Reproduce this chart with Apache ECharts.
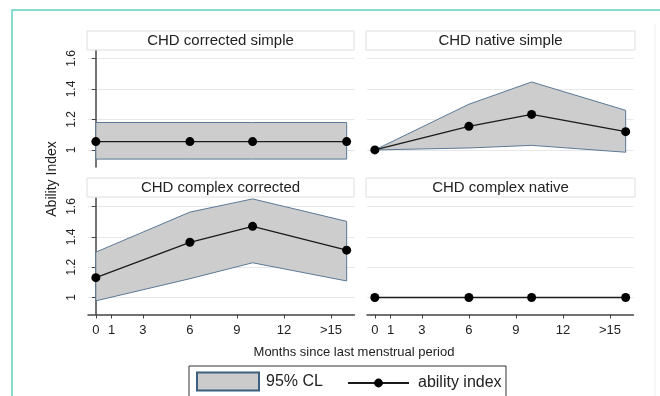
<!DOCTYPE html>
<html>
<head>
<meta charset="utf-8">
<script src="https://cdn.jsdelivr.net/npm/echarts@6/dist/echarts.min.js"></script>
<style>html,body{margin:0;padding:0;background:#fff}#chart{width:660px;height:396px}</style>
</head>
<body>
<div id="chart"></div>
<script>
// ---- data ----
var months = [0, 6, 10, 16];
var xTicks = [0, 1, 3, 6, 9, 12, 15];
var xTickLabels = ['0', '1', '3', '6', '9', '12', '>15'];
var yTicks = [1, 1.2, 1.4, 1.6];
var yTickLabels = ['1', '1.2', '1.4', '1.6'];
var panelTitles = ['CHD corrected simple', 'CHD native simple', 'CHD complex corrected', 'CHD complex native'];

var corrSimpleMean = [1.055, 1.055, 1.055, 1.055];
var corrSimpleLo   = [0.94, 0.94, 0.94, 0.94];
var corrSimpleHi   = [1.18, 1.18, 1.18, 1.18];

var nativeSimpleMean = [1.0, 1.155, 1.233, 1.12];
var nativeSimpleLo   = [1.0, 1.013, 1.03, 0.985];
var nativeSimpleHi   = [1.0, 1.30, 1.446, 1.26];

var complexCorrMean = [1.131, 1.364, 1.469, 1.312];
var complexCorrLo   = [0.978, 1.124, 1.229, 1.109];
var complexCorrHi   = [1.299, 1.563, 1.65, 1.502];

var complexNativeMean = [1.0, 1.0, 1.0, 1.0];
var complexNativeLo   = [1.0, 1.0, 1.0, 1.0];
var complexNativeHi   = [1.0, 1.0, 1.0, 1.0];

var xAxisTitle = 'Months since last menstrual period';
var yAxisTitle = 'Ability Index';
var legendCL = '95% CL';
var legendMean = 'ability index';

// ---- build ----
var panels = [
  {mean: corrSimpleMean, lo: corrSimpleLo, hi: corrSimpleHi},
  {mean: nativeSimpleMean, lo: nativeSimpleLo, hi: nativeSimpleHi},
  {mean: complexCorrMean, lo: complexCorrLo, hi: complexCorrHi},
  {mean: complexNativeMean, lo: complexNativeLo, hi: complexNativeHi}
];
var FONT = '"Liberation Sans", Arial, sans-serif';
var gridPos = [
  {left: 88, top: 50, width: 266.5, height: 117},
  {left: 367, top: 50, width: 266.5, height: 117},
  {left: 88, top: 198, width: 266.5, height: 116.5},
  {left: 367, top: 198, width: 266.5, height: 116.5}
];
var YMIN = 0.888, YMAX = 1.656;

function bandRenderer(p) {
  return function (params, api) {
    if (params.dataIndex !== 0) return null;
    var pts = [];
    for (var i = 0; i < months.length; i++) pts.push(api.coord([months[i], p.hi[i]]));
    for (var j = months.length - 1; j >= 0; j--) pts.push(api.coord([months[j], p.lo[j]]));
    return {type: 'polygon', shape: {points: pts},
      style: {fill: '#cdcdcd', stroke: '#5a7896', lineWidth: 1}};
  };
}

var grids = [], xAxes = [], yAxes = [], series = [], graphics = [];
panels.forEach(function (p, k) {
  var isBottom = k >= 2, isLeft = (k % 2) === 0;
  grids.push(gridPos[k]);
  xAxes.push({
    type: 'value', gridIndex: k, min: -0.5, max: 16.5,
    show: isBottom,
    axisLine: {show: isBottom, onZero: false, lineStyle: {color: '#444', width: 1.5}},
    axisTick: {show: isBottom, customValues: xTicks, length: 4, lineStyle: {color: '#444'}},
    axisLabel: {show: isBottom, customValues: xTicks, fontSize: 13, color: '#222', margin: 9, fontFamily: FONT,
      formatter: function (v) { var i = xTicks.indexOf(v); return i >= 0 ? xTickLabels[i] : ''; }},
    splitLine: {show: false}
  });
  yAxes.push({
    type: 'value', gridIndex: k, min: YMIN, max: YMAX,
    axisLine: {show: isLeft, lineStyle: {color: '#444', width: 1.5}},
    axisTick: {show: isLeft, customValues: yTicks, length: 4, lineStyle: {color: '#444'}},
    axisLabel: {show: isLeft, customValues: yTicks, rotate: 90, fontSize: 12, color: '#222', margin: 10, fontFamily: FONT,
      formatter: function (v) { var i = yTicks.indexOf(v); return i >= 0 ? yTickLabels[i] : ''; }},
    splitLine: {show: true, lineStyle: {color: '#e8e8e8', width: 1}}
  });
  series.push({
    type: 'custom', name: legendCL, xAxisIndex: k, yAxisIndex: k,
    data: months.map(function (m, i) { return [m, p.lo[i], p.hi[i]]; }),
    encode: {x: 0, y: [1, 2]},
    itemStyle: {color: '#cdcdcd'},
    renderItem: bandRenderer(p), silent: true, z: 2
  });
  series.push({
    type: 'line', name: legendMean, xAxisIndex: k, yAxisIndex: k,
    data: months.map(function (m, i) { return [m, p.mean[i]]; }),
    symbol: 'circle', symbolSize: 9, showSymbol: true,
    lineStyle: {color: '#1a1a1a', width: 1.3},
    itemStyle: {color: '#000'}, z: 5, animation: false
  });
  var hx = isLeft ? 87 : 366, hw = isLeft ? 267 : 269;
  var hy = isBottom ? 178 : 31;
  graphics.push({type: 'rect', shape: {x: hx, y: hy, width: hw, height: 19},
    style: {fill: '#fff', stroke: '#dedede', lineWidth: 1}, z: 10});
  graphics.push({type: 'text', x: hx + hw / 2, y: hy + 10,
    style: {text: panelTitles[k], font: '15px ' + FONT, fill: '#222', textAlign: 'center', textVerticalAlign: 'middle'}, z: 11});
});

// outer frame and texts
graphics.push({type: 'rect', shape: {x: 12, y: 10, width: 700, height: 500},
  style: {fill: 'none', stroke: '#62d0c2', lineWidth: 1.5}, z: 0});
graphics.push({type: 'line', shape: {x1: 655, y1: 24, x2: 655, y2: 396},
  style: {stroke: '#eeeeee', lineWidth: 1}, z: 0});
graphics.push({type: 'text', x: 354, y: 352,
  style: {text: xAxisTitle, font: '13px ' + FONT, fill: '#222', textAlign: 'center', textVerticalAlign: 'middle'}, z: 11});
graphics.push({type: 'text', x: 52, y: 179, rotation: Math.PI / 2,
  style: {text: yAxisTitle, font: '14px ' + FONT, fill: '#222', textAlign: 'center', textVerticalAlign: 'middle'}, z: 11});
graphics.push({type: 'rect', shape: {x: 189, y: 366, width: 317, height: 40},
  style: {fill: '#fff', stroke: '#333', lineWidth: 1}, z: 0});

var option = {
  animation: false,
  textStyle: {fontFamily: FONT},
  grid: grids,
  xAxis: xAxes,
  yAxis: yAxes,
  series: series,
  legend: [
    {left: 196, top: 371.5, padding: 0, itemWidth: 62, itemHeight: 18, selectedMode: false,
      data: [{name: legendCL, icon: 'rect', itemStyle: {color: '#cbcbcb', borderColor: '#3d5f80', borderWidth: 2}}],
      textStyle: {fontSize: 16, color: '#222', fontFamily: FONT, padding: [0, 0, 0, 2]}},
    {left: 347, top: 375, padding: 0, itemWidth: 61, itemHeight: 11, selectedMode: false,
      data: [{name: legendMean}],
      textStyle: {fontSize: 16, color: '#222', fontFamily: FONT, padding: [0, 0, 0, 4]}}
  ],
  graphic: graphics
};
var chart = echarts.init(document.getElementById('chart'), null, {renderer: 'canvas'});
chart.setOption(option);
</script>
</body>
</html>
